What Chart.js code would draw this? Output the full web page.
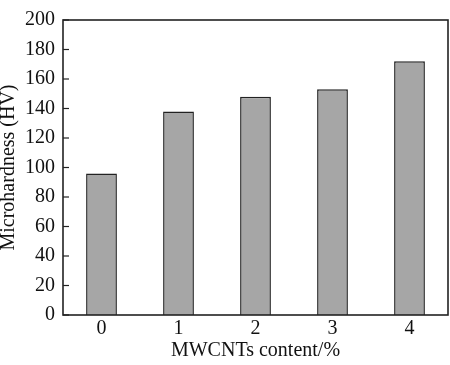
<!DOCTYPE html>
<html>
<head>
<meta charset="utf-8">
<script src="https://cdn.jsdelivr.net/npm/chart.js@4"></script>
<style>
  html, body { margin: 0; padding: 0; background: #fff; }
  #c { display: block; }
</style>
</head>
<body>
<canvas id="c" width="450" height="365"></canvas>
<script>
// data
const categories = ['0', '1', '2', '3', '4'];
const hardness = [96, 138, 148, 153, 172];
const yTicks = [0, 20, 40, 60, 80, 100, 120, 140, 160, 180, 200];

const fontFam = '"Liberation Serif", "Times New Roman", serif';

// box around the plot + short inward ticks on the left axis
const frame = {
  id: 'frame',
  afterDraw(chart) {
    const ctx = chart.ctx;
    const a = chart.chartArea;
    const y = chart.scales.y;
    ctx.save();
    ctx.strokeStyle = '#222';
    ctx.lineWidth = 1.6;
    ctx.strokeRect(a.left, a.top, a.right - a.left, a.bottom - a.top);
    ctx.lineWidth = 1.2;
    yTicks.forEach(v => {
      const py = y.getPixelForValue(v);
      ctx.beginPath();
      ctx.moveTo(a.left, py);
      ctx.lineTo(a.left + 6, py);
      ctx.stroke();
    });
    ctx.restore();
  }
};

const config = {
  type: 'bar',
  data: {
    labels: categories,
    datasets: [{
      data: hardness,
      backgroundColor: '#a6a6a6',
      borderColor: '#222',
      borderWidth: 1.5,
      barPercentage: 0.4,
      categoryPercentage: 1
    }]
  },
  options: {
    responsive: false,
    animation: false,
    layout: { autoPadding: false, padding: { top: 5, right: 2, left: 0, bottom: 0 } },
    plugins: {
      legend: { display: false },
      tooltip: { enabled: false }
    },
    scales: {
      x: {
        grid: { display: false, drawTicks: false, tickLength: 0 },
        border: { display: false },
        ticks: { color: '#111', font: { family: fontFam, size: 20 }, padding: 2 },
        title: {
          display: true,
          text: 'MWCNTs content/%',
          color: '#111',
          font: { family: fontFam, size: 20 },
          padding: { top: 0, bottom: 2 }
        },
        afterFit(s) { s.height = 50; }
      },
      y: {
        min: 0,
        max: 200,
        grid: { display: false, drawTicks: false, tickLength: 0 },
        border: { display: false },
        ticks: {
          stepSize: 20,
          color: '#111',
          font: { family: fontFam, size: 20 },
          padding: 8
        },
        title: {
          display: true,
          text: 'Microhardness (HV)',
          color: '#111',
          font: { family: fontFam, size: 20 },
          padding: { top: -3, bottom: 0 }
        },
        afterFit(s) { s.width = 63; }
      }
    }
  },
  plugins: [frame]
};

let myChart = new Chart(document.getElementById('c'), config);
</script>
</body>
</html>
